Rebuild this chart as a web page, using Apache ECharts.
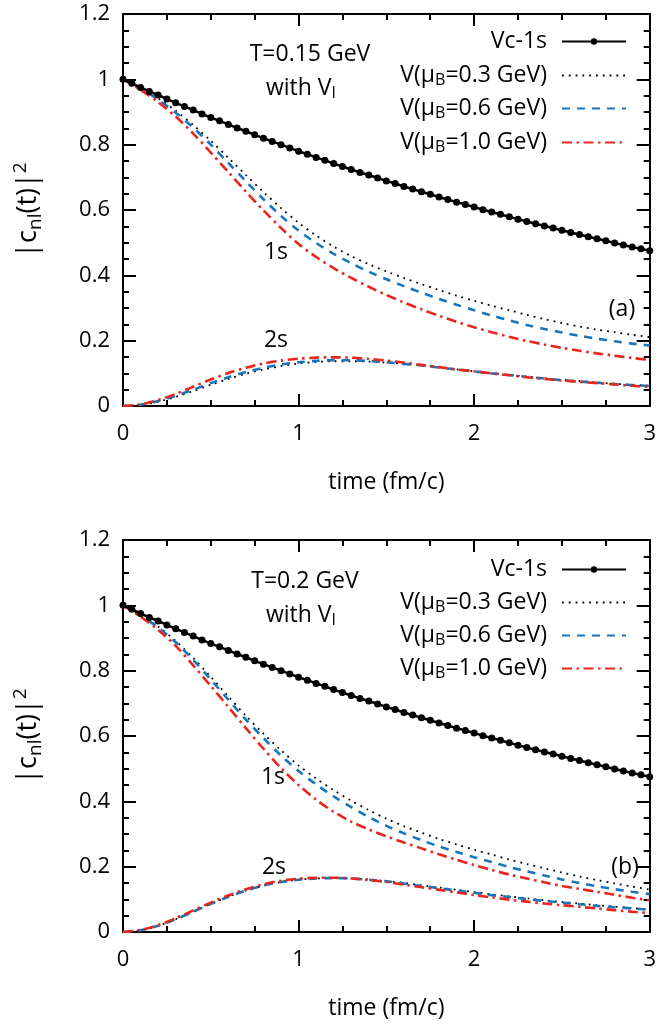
<!DOCTYPE html>
<html>
<head>
<meta charset="utf-8">
<script src="https://cdn.jsdelivr.net/npm/echarts@6/dist/echarts.min.js"></script>
<style>
html, body { margin: 0; padding: 0; background: #fff; }
#chart { width: 659px; height: 1027px; }
</style>
</head>
<body>
<div id="chart"></div>
<script>
// time grids (fm/c)
var tFine = [0,0.05,0.1,0.15,0.2,0.25,0.3,0.35,0.4,0.45,0.5,0.55,0.6,0.65,0.7,0.75,0.8,0.85,0.9,0.95,
  1,1.05,1.1,1.15,1.2,1.25,1.3,1.35,1.4,1.45,1.5,1.55,1.6,1.65,1.7,1.75,1.8,1.85,1.9,1.95,
  2,2.05,2.1,2.15,2.2,2.25,2.3,2.35,2.4,2.45,2.5,2.55,2.6,2.65,2.7,2.75,2.8,2.85,2.9,2.95,3];
var tCoarse = [0,0.1,0.2,0.3,0.4,0.5,0.6,0.7,0.8,0.9,1,1.1,1.2,1.3,1.4,1.5,1.6,1.7,1.8,1.9,
  2,2.1,2.2,2.3,2.4,2.5,2.6,2.7,2.8,2.9,3];

// Vc-1s (same in both panels)
var vc1s = [1.000,0.988,0.975,0.963,0.952,0.940,0.928,0.917,0.906,0.894,0.883,0.873,0.862,0.851,0.841,0.830,
  0.820,0.810,0.800,0.790,0.780,0.771,0.761,0.752,0.742,0.733,0.724,0.715,0.707,0.698,0.689,0.681,
  0.672,0.664,0.656,0.648,0.640,0.632,0.624,0.617,0.609,0.601,0.594,0.587,0.579,0.572,0.565,0.558,
  0.551,0.545,0.538,0.531,0.525,0.518,0.512,0.506,0.499,0.493,0.487,0.481,0.475];

// panel (a) T=0.15 GeV
var a1s03 = [1.000,0.974,0.942,0.904,0.860,0.812,0.760,0.707,0.655,0.606,0.561,0.522,0.488,0.459,0.434,0.412,
  0.392,0.373,0.355,0.338,0.322,0.307,0.293,0.279,0.266,0.254,0.243,0.234,0.226,0.218,0.211];
var a1s06 = [1.000,0.972,0.938,0.898,0.852,0.800,0.744,0.688,0.633,0.582,0.537,0.499,0.466,0.437,0.411,0.388,
  0.367,0.347,0.328,0.310,0.293,0.277,0.262,0.248,0.236,0.225,0.215,0.206,0.198,0.191,0.185];
var a1s10 = [1.000,0.968,0.930,0.886,0.834,0.776,0.716,0.656,0.599,0.545,0.496,0.456,0.422,0.392,0.365,0.340,
  0.317,0.296,0.276,0.258,0.241,0.226,0.212,0.199,0.188,0.178,0.169,0.161,0.154,0.147,0.141];
var a2s03 = [0,0.003,0.013,0.028,0.046,0.065,0.083,0.099,0.112,0.122,0.130,0.135,0.137,0.137,0.136,0.133,
  0.129,0.124,0.118,0.112,0.106,0.100,0.095,0.090,0.085,0.080,0.076,0.072,0.068,0.065,0.062];
var a2s06 = [0,0.004,0.015,0.031,0.050,0.070,0.088,0.104,0.117,0.127,0.134,0.138,0.140,0.140,0.138,0.134,
  0.129,0.124,0.118,0.112,0.106,0.100,0.095,0.089,0.084,0.079,0.075,0.071,0.067,0.064,0.061];
var a2s10 = [0,0.005,0.018,0.037,0.059,0.081,0.101,0.117,0.130,0.139,0.145,0.148,0.149,0.148,0.144,0.139,
  0.133,0.126,0.119,0.112,0.106,0.100,0.094,0.088,0.083,0.078,0.074,0.070,0.066,0.062,0.059];

// panel (b) T=0.2 GeV
var b1s03 = [1.000,0.970,0.935,0.891,0.839,0.781,0.721,0.662,0.607,0.556,0.510,0.470,0.434,0.402,0.373,0.347,
  0.324,0.304,0.285,0.268,0.252,0.237,0.222,0.208,0.195,0.182,0.170,0.159,0.149,0.139,0.130];
var b1s06 = [1.000,0.968,0.932,0.887,0.833,0.773,0.711,0.650,0.594,0.540,0.493,0.452,0.415,0.382,0.352,0.325,
  0.302,0.281,0.262,0.245,0.229,0.214,0.199,0.186,0.173,0.161,0.150,0.140,0.131,0.123,0.116];
var b1s10 = [1.000,0.965,0.925,0.876,0.816,0.753,0.689,0.624,0.561,0.502,0.450,0.405,0.368,0.338,0.314,0.293,
  0.274,0.256,0.238,0.221,0.205,0.190,0.176,0.164,0.152,0.141,0.132,0.123,0.114,0.105,0.097];
var b2s03 = [0,0.005,0.019,0.039,0.062,0.086,0.108,0.127,0.142,0.153,0.160,0.164,0.165,0.164,0.161,0.156,
  0.150,0.143,0.136,0.129,0.122,0.115,0.109,0.103,0.097,0.092,0.087,0.082,0.078,0.073,0.069];
var b2s06 = [0,0.005,0.019,0.039,0.062,0.086,0.108,0.127,0.142,0.153,0.160,0.164,0.165,0.164,0.160,0.155,
  0.148,0.141,0.134,0.127,0.120,0.113,0.107,0.101,0.095,0.090,0.085,0.080,0.076,0.072,0.068];
var b2s10 = [0,0.006,0.021,0.042,0.066,0.090,0.112,0.131,0.146,0.157,0.163,0.166,0.166,0.164,0.159,0.153,
  0.145,0.137,0.129,0.121,0.113,0.106,0.099,0.093,0.087,0.082,0.077,0.072,0.067,0.062,0.058];

var names = ['Vc-1s', 'V(μB=0.3 GeV)', 'V(μB=0.6 GeV)', 'V(μB=1.0 GeV)'];
var legendText = {
  'Vc-1s': '{n|Vc-1s}',
  'V(μB=0.3 GeV)': '{n|V(μ}{sub|B}{n|=0.3 GeV)}',
  'V(μB=0.6 GeV)': '{n|V(μ}{sub|B}{n|=0.6 GeV)}',
  'V(μB=1.0 GeV)': '{n|V(μ}{sub|B}{n|=1.0 GeV)}'
};

var FONT = '"Open Sans", "Noto Sans", sans-serif';
var FS = 23;
var TICK_FS = 22;
var BLUE = '#1874bb';
var RED = '#e8261c';

var rich = {
  n: { fontSize: FS, fontFamily: FONT, color: '#000', lineHeight: 26 },
  sub: { fontSize: 16, fontFamily: FONT, color: '#000', lineHeight: 14, verticalAlign: 'bottom' },
  big: { fontSize: 27, fontFamily: FONT, color: '#000', lineHeight: 34 },
  bsub: { fontSize: 19, fontFamily: FONT, color: '#000', lineHeight: 18, verticalAlign: 'bottom' },
  bsup: { fontSize: 19, fontFamily: FONT, color: '#000', lineHeight: 18, verticalAlign: 'top' }
};

var styles = [
  { color: '#000', width: 2.5, type: 'solid' },
  { color: '#000', width: 1.8, type: [1.8, 5] },
  { color: BLUE, width: 2.6, type: [8, 7] },
  { color: RED, width: 2.6, type: [10, 4.5, 2.5, 4.5] }
];

var grids = [
  { left: 123, top: 14, width: 530, height: 392 },
  { left: 123, top: 540, width: 530, height: 392 }
];

function pairs(t, v) {
  return t.map(function (x, i) { return [x, v[i]]; });
}

var yName = '{big||c}{bsub|nl}{big|(t)|}{bsup|2}';

var xAxes = [], yAxes = [];
grids.forEach(function (g, gi) {
  ['bottom', 'top'].forEach(function (pos) {
    xAxes.push({
      type: 'value', gridIndex: gi, position: pos, min: 0, max: 3, interval: 1,
      name: pos === 'bottom' ? 'time (fm/c)' : '',
      nameLocation: 'middle', nameGap: 65,
      nameTextStyle: { fontSize: FS, fontFamily: FONT, color: '#000' },
      axisLine: { show: true, onZero: false, lineStyle: { color: '#000', width: 2 } },
      axisTick: { show: true, inside: true, length: 12, lineStyle: { color: '#000', width: 2 } },
      minorTick: { show: true, splitNumber: 4, length: 6, lineStyle: { color: '#000', width: 2 } },
      axisLabel: { show: pos === 'bottom', margin: 17, fontSize: TICK_FS, fontFamily: FONT, color: '#000' },
      splitLine: { show: false }
    });
  });
  ['left', 'right'].forEach(function (pos) {
    yAxes.push({
      type: 'value', gridIndex: gi, position: pos, min: 0, max: 1.2, interval: 0.2,
      name: pos === 'left' ? yName : '',
      nameLocation: 'middle', nameRotate: 90, nameGap: 78,
      nameTextStyle: { rich: rich },
      axisLine: { show: true, onZero: false, lineStyle: { color: '#000', width: 2 } },
      axisTick: { show: true, inside: true, length: 13, lineStyle: { color: '#000', width: 2 } },
      minorTick: { show: true, splitNumber: 4, length: 6, lineStyle: { color: '#000', width: 2 } },
      axisLabel: { show: pos === 'left', margin: 13, fontSize: TICK_FS, fontFamily: FONT, color: '#000' },
      splitLine: { show: false }
    });
  });
});

var panels = [
  { s1: [a1s03, a1s06, a1s10], s2: [a2s03, a2s06, a2s10] },
  { s1: [b1s03, b1s06, b1s10], s2: [b2s03, b2s06, b2s10] }
];

var series = [];
panels.forEach(function (p, gi) {
  var xi = gi * 2, yi = gi * 2;
  for (var k = 0; k < 3; k++) {
    [p.s1[k], p.s2[k]].forEach(function (vals, j) {
      series.push({
        type: 'line', name: j === 0 ? names[k + 1] : names[k + 1] + ' 2s',
        xAxisIndex: xi, yAxisIndex: yi,
        data: pairs(tCoarse, vals),
        smooth: 0.3, showSymbol: false, symbol: 'none',
        lineStyle: styles[k + 1], itemStyle: { color: styles[k + 1].color },
        z: 2 + k
      });
    });
  }
  series.push({
    type: 'line', name: names[0], xAxisIndex: xi, yAxisIndex: yi,
    data: pairs(tFine, vc1s),
    symbol: 'circle', symbolSize: 7, showSymbol: true,
    lineStyle: styles[0], itemStyle: { color: '#000' },
    z: 6
  });
});

var rowTops = [[30, 64, 97, 131], [558, 591, 624, 657]];
var legends = [];
rowTops.forEach(function (tops) {
  tops.forEach(function (top, i) {
    var lg = {
      data: [names[i]], right: 32, top: top, padding: 0,
      orient: 'horizontal', align: 'right', selectedMode: false,
      itemWidth: 64, itemHeight: 8,
      formatter: function (n) { return legendText[n]; },
      textStyle: { rich: rich, padding: [0, 10, 0, 0] }
    };
    if (i > 0) lg.itemStyle = { opacity: 0 };
    legends.push(lg);
  });
});

function label(x, y, text) {
  return {
    type: 'text', x: x, y: y, z: 10,
    style: { text: text, rich: rich, fontSize: FS, fontFamily: FONT, fill: '#000', align: 'center', verticalAlign: 'middle' }
  };
}

var graphics = [
  label(310, 54, '{n|T=0.15 GeV}'),
  label(301, 88, '{n|with V}{sub|I}'),
  label(305, 581, '{n|T=0.2 GeV}'),
  label(301, 615, '{n|with V}{sub|I}'),
  label(276, 252, '{n|1s}'),
  label(276, 340, '{n|2s}'),
  label(273, 777, '{n|1s}'),
  label(274, 867, '{n|2s}'),
  label(622, 309, '{n|(a)}'),
  label(625, 867, '{n|(b)}')
];

var chart = echarts.init(document.getElementById('chart'));
chart.setOption({
  animation: false,
  backgroundColor: '#fff',
  grid: grids,
  xAxis: xAxes,
  yAxis: yAxes,
  legend: legends,
  series: series,
  graphic: graphics
});
</script>
</body>
</html>
